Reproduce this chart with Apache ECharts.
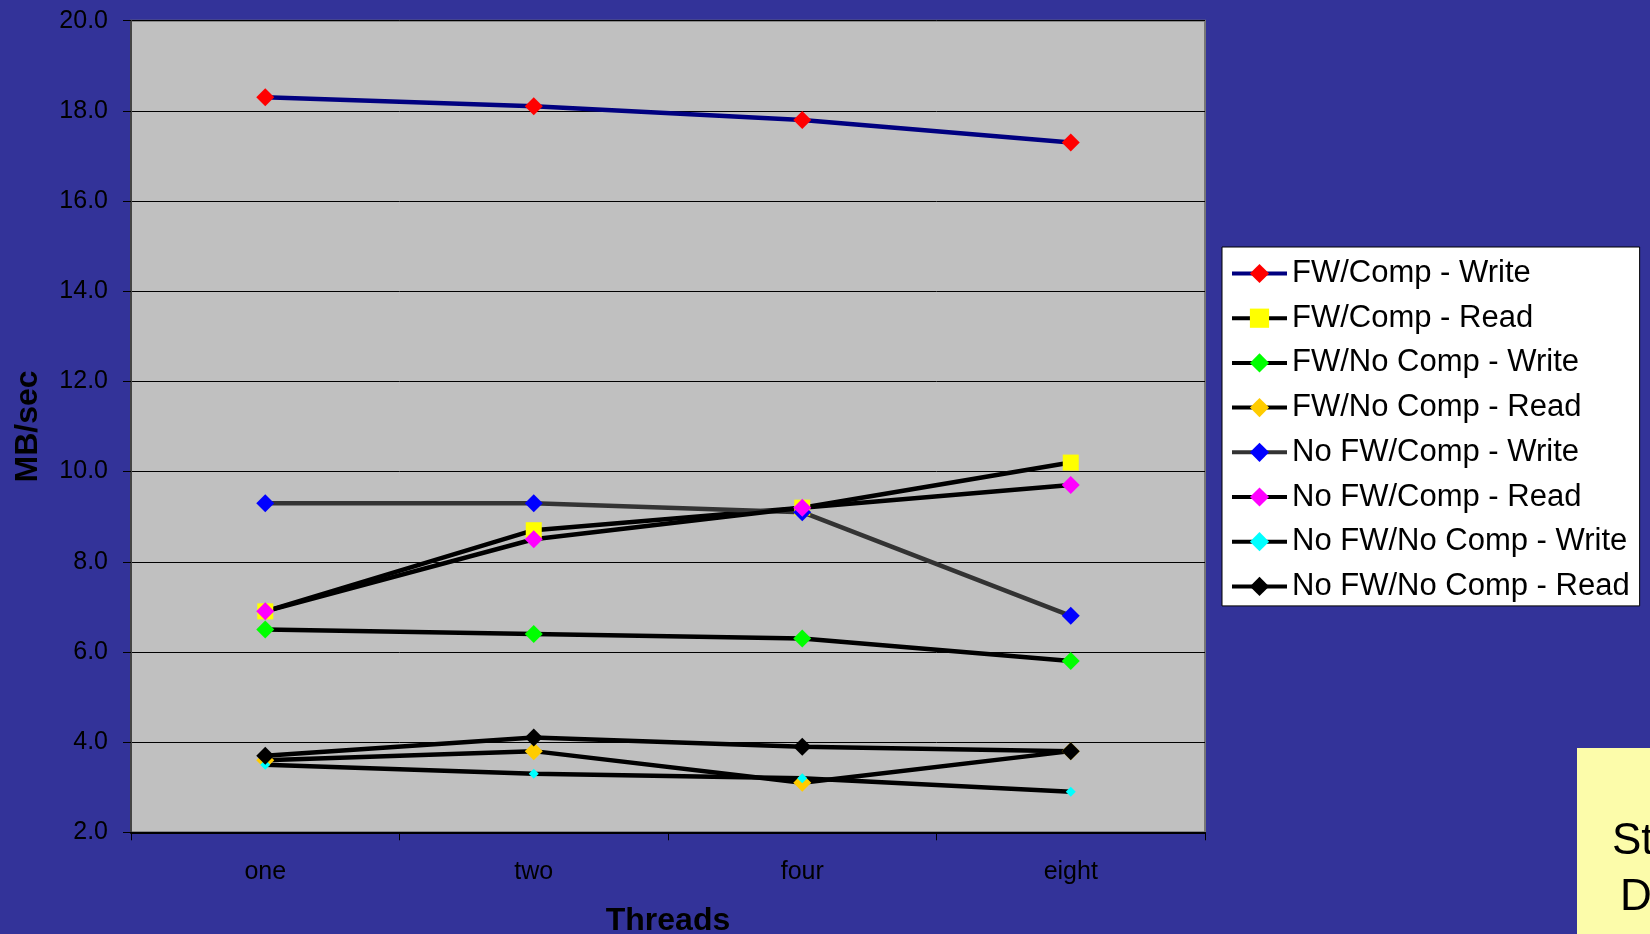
<!DOCTYPE html>
<html>
<head>
<meta charset="utf-8">
<title>Throughput by thread count</title>
<script src="https://cdn.jsdelivr.net/npm/echarts@6/dist/echarts.min.js"></script>
<style>
  html, body { margin: 0; padding: 0; background: #333399; }
  #chart { width: 1650px; height: 934px; }
</style>
</head>
<body>
<div id="chart"></div>
<script>
// Thread counts along the x axis
const threads = ['one', 'two', 'four', 'eight'];

// Throughput in MB/sec for each configuration
const fwCompWrite     = [18.3, 18.1, 17.8, 17.3];
const fwCompRead      = [6.9, 8.7, 9.2, 10.2];
const fwNoCompWrite   = [6.5, 6.4, 6.3, 5.8];
const fwNoCompRead    = [3.6, 3.8, 3.1, 3.8];
const noFwCompWrite   = [9.3, 9.3, 9.1, 6.8];
const noFwCompRead    = [6.9, 8.5, 9.2, 9.7];
const noFwNoCompWrite = [3.5, 3.3, 3.2, 2.9];
const noFwNoCompRead  = [3.7, 4.1, 3.9, 3.8];

// Series names as shown in the legend
const seriesNames = [
  'FW/Comp - Write', 'FW/Comp - Read', 'FW/No Comp - Write', 'FW/No Comp - Read',
  'No FW/Comp - Write', 'No FW/Comp - Read', 'No FW/No Comp - Write', 'No FW/No Comp - Read'
];

// Y axis range and step
const yMin = 2, yMax = 20, yStep = 2;

const FONT = "'Liberation Sans', Arial, sans-serif";

// Per-series look: line colour, marker shape, marker colour, marker size
const styles = [
  { line: '#000080', symbol: 'diamond', fill: '#FF0000', size: 18 },
  { line: '#000000', symbol: 'rect',    fill: '#FFFF00', size: 16 },
  { line: '#000000', symbol: 'diamond', fill: '#00FF00', size: 18 },
  { line: '#000000', symbol: 'diamond', fill: '#FFCC00', size: 18 },
  { line: '#333333', symbol: 'diamond', fill: '#0000FF', size: 18 },
  { line: '#000000', symbol: 'diamond', fill: '#FF00FF', size: 18 },
  { line: '#000000', symbol: 'diamond', fill: '#00FFFF', size: 10 },
  { line: '#000000', symbol: 'diamond', fill: '#000000', size: 18 }
];

const values = [fwCompWrite, fwCompRead, fwNoCompWrite, fwNoCompRead,
                noFwCompWrite, noFwCompRead, noFwNoCompWrite, noFwNoCompRead];

const series = values.map((data, i) => ({
  name: seriesNames[i],
  type: 'line',
  data: data,
  symbol: styles[i].symbol,
  symbolSize: styles[i].size,
  showSymbol: true,
  lineStyle: { color: styles[i].line, width: 4.5 },
  itemStyle: { color: styles[i].fill, borderWidth: 0 },
  emphasis: { disabled: true }
}));

const chart = echarts.init(document.getElementById('chart'), null, { renderer: 'canvas' });

chart.setOption({
  animation: false,
  backgroundColor: '#333399',
  textStyle: { fontFamily: FONT },
  grid: {
    left: 131, right: 445, top: 20.7, bottom: 101.7,
    outerBoundsMode: 'none',
    containLabel: false,
    show: true,
    backgroundColor: '#C0C0C0',
    borderColor: '#777777',
    borderWidth: 2
  },
  legend: {
    orient: 'vertical',
    left: 1222,
    top: 247,
    data: seriesNames,
    backgroundColor: '#FFFFFF',
    borderColor: '#000000',
    borderWidth: 1,
    borderRadius: 0,
    padding: [11, 10, 4, 8],
    itemWidth: 55,
    itemHeight: 24,
    itemGap: 13.7,
    lineStyle: { width: 4 },
    textStyle: { fontFamily: FONT, fontSize: 31, color: '#000000', lineHeight: 31 },
    selectedMode: false
  },
  xAxis: {
    type: 'category',
    data: threads,
    boundaryGap: true,
    name: 'Threads',
    nameLocation: 'middle',
    nameGap: 73,
    nameTextStyle: { fontFamily: FONT, fontSize: 32, fontWeight: 'bold', color: '#000000' },
    axisLine: { show: true, lineStyle: { color: '#000000', width: 2 } },
    axisTick: { show: true, inside: false, length: 8, interval: 0, lineStyle: { color: '#000000', width: 1 } },
    axisLabel: { fontFamily: FONT, fontSize: 25, color: '#000000', margin: 27, interval: 0 },
    splitLine: { show: false }
  },
  yAxis: {
    type: 'value',
    min: yMin,
    max: yMax,
    interval: yStep,
    name: 'MB/sec',
    nameLocation: 'middle',
    nameRotate: 90,
    nameGap: 87,
    nameTextStyle: { fontFamily: FONT, fontSize: 32, fontWeight: 'bold', color: '#000000' },
    axisLine: { show: true, lineStyle: { color: '#444444', width: 2 } },
    axisTick: { show: true, inside: false, length: 8, lineStyle: { color: '#000000', width: 1 } },
    axisLabel: {
      fontFamily: FONT, fontSize: 25, color: '#000000', margin: 23,
      formatter: v => v.toFixed(1)
    },
    splitLine: { show: true, lineStyle: { color: '#000000', width: 1 } }
  },
  graphic: [
    {
      type: 'rect',
      left: 1577, top: 748,
      shape: { width: 120, height: 200 },
      style: { fill: '#FCFCAA' },
      z: 0
    },
    {
      type: 'text',
      left: 1612, top: 820,
      style: { text: 'St', fontFamily: FONT, fontSize: 44, fill: '#000000' }
    },
    {
      type: 'text',
      left: 1620, top: 876,
      style: { text: 'D', fontFamily: FONT, fontSize: 44, fill: '#000000' }
    }
  ],
  series: series
});
</script>
</body>
</html>
